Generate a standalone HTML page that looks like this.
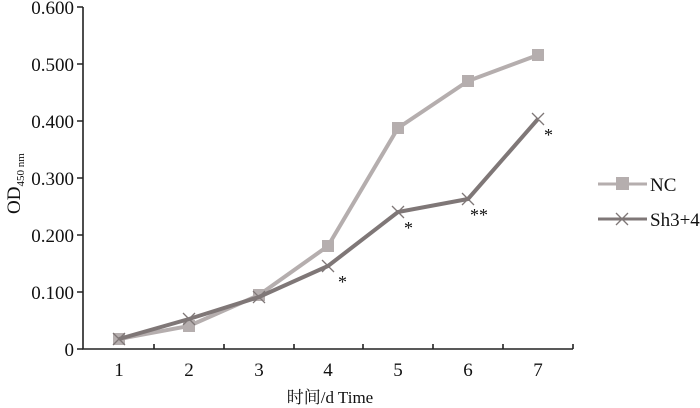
<!DOCTYPE html>
<html><head><style>body{margin:0;background:#fff}svg{display:block}</style></head><body>
<svg width="700" height="408" xmlns="http://www.w3.org/2000/svg" font-family="Liberation Serif, serif" fill="#111">
<g stroke="#222" stroke-width="1.6" fill="none">
<path d="M83,7 V349 H573"/>
<path d="M77,7H83M77,64H83M77,121H83M77,178H83M77,235H83M77,292H83M77,349H83"/>
<path d="M154,349v-5M224,349v-5M294,349v-5M363,349v-5M433,349v-5M503,349v-5M573,349v-5"/>
</g>
<g font-size="19" text-anchor="end">
<text x="74" y="14">0.600</text><text x="74" y="71">0.500</text><text x="74" y="128">0.400</text>
<text x="74" y="185">0.300</text><text x="74" y="242">0.200</text><text x="74" y="299">0.100</text><text x="74" y="356">0</text>
</g>
<g font-size="19" text-anchor="middle">
<text x="119" y="376">1</text><text x="189" y="376">2</text><text x="259" y="376">3</text><text x="328" y="376">4</text>
<text x="398" y="376">5</text><text x="468" y="376">6</text><text x="538" y="376">7</text>
</g>
<text x="330" y="403" font-size="17" text-anchor="middle" font-family="Liberation Serif, Noto Serif CJK SC, serif">时间/d  Time</text>
<text transform="translate(20,214) rotate(-90)" font-size="19">OD<tspan font-size="11" dy="4">450 nm</tspan></text>
<polyline fill="none" stroke="#b5aeae" stroke-width="4" points="119,339 189,326 259,295 328,246 398,128 468,81 538,55"/>
<g fill="#b5aeae">
<rect x="113" y="333" width="12" height="12"/><rect x="183" y="320" width="12" height="12"/><rect x="253" y="289" width="12" height="12"/>
<rect x="322" y="240" width="12" height="12"/><rect x="392" y="122" width="12" height="12"/><rect x="462" y="75" width="12" height="12"/><rect x="532" y="49" width="12" height="12"/>
</g>
<polyline fill="none" stroke="#7f7777" stroke-width="4" points="119,339 189,319 259,297 328,266 398,212 468,199 538,119"/>
<g stroke="#7f7777" stroke-width="1.3">
<path d="M113,333l12,12M125,333l-12,12M183,313l12,12M195,313l-12,12M253,291l12,12M265,291l-12,12M322,260l12,12M334,260l-12,12M392,206l12,12M404,206l-12,12M462,193l12,12M474,193l-12,12M532,113l12,12M544,113l-12,12"/>
</g>
<g font-size="18">
<text x="338" y="288">*</text><text x="404" y="234">*</text><text x="470" y="221">**</text><text x="544" y="141">*</text>
</g>
<line x1="598" y1="184" x2="647" y2="184" stroke="#b5aeae" stroke-width="3"/>
<rect x="616" y="177" width="13" height="13" fill="#b5aeae"/>
<text x="650" y="191" font-size="19">NC</text>
<line x1="598" y1="219" x2="647" y2="219" stroke="#7f7777" stroke-width="3"/>
<path d="M616,213l12,12M628,213l-12,12" stroke="#7f7777" stroke-width="1.3"/>
<text x="650" y="226" font-size="19">Sh3+4</text>
</svg>
</body></html>
